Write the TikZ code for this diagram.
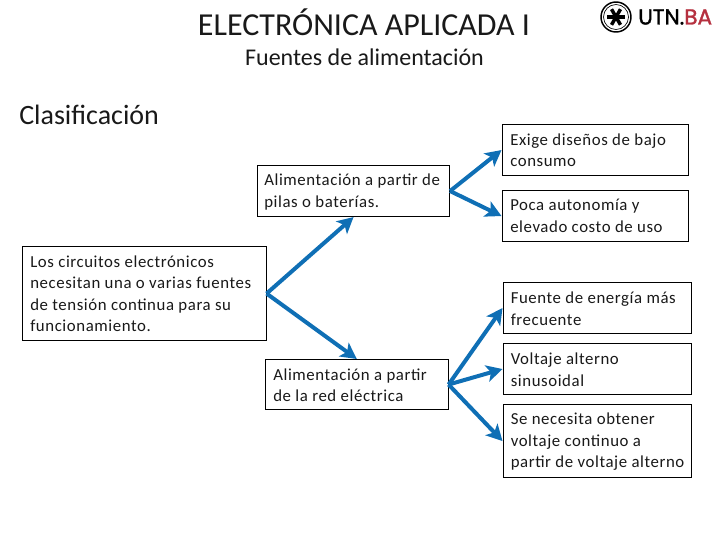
\documentclass[tikz,border=0pt]{standalone}
\usepackage{fontspec}
\setmainfont{Carlito}
\newfontfamily\logofont[FakeBold=1.5]{Poppins}
\newfontfamily\bodyfont[LetterSpace=3.5]{Carlito}
\usetikzlibrary{arrows.meta,calc}
\definecolor{arrowblue}{HTML}{0F6FB5}
\definecolor{logored}{HTML}{B5303F}
\tikzset{
  x=0.75pt,y=-0.75pt,
  box/.style={draw=black,line width=0.8pt,fill=white,anchor=north west,inner sep=0pt,minimum height=#1*0.75pt},
  txt/.style={anchor=west,inner sep=0pt,align=left,font=\bodyfont\fontsize{12.6pt}{16.1pt}\selectfont,text=black!90},
  conn/.style={draw=arrowblue,line width=3pt,-{Stealth[length=12pt,width=12.5pt,inset=3pt]}},
  title/.style={inner sep=0pt,text=black!90},
}
\begin{document}
\begin{tikzpicture}
\useasboundingbox (0,0) rectangle (720,540);
\node[title,font=\fontsize{24pt}{28pt}\selectfont] (t1) at (364,22) {ELECTRÓNICA APLICADA I};
\node[title,font=\fontsize{18pt}{22pt}\selectfont] (t2) at (364.5,57) {Fuentes de alimentación};
\node[title,font=\fontsize{21pt}{25pt}\selectfont,anchor=west] (t3) at (19,115) {Clasificación};
% boxes
\node[box=51,minimum width=192*0.75pt] (a) at (257,165) {};
\node[box=94,minimum width=244*0.75pt] (s) at (21.5,246) {};
\node[box=50,minimum width=182.5*0.75pt] (b) at (265,359) {};
\node[box=51,minimum width=186*0.75pt] (r1) at (501.5,124) {};
\node[box=51,minimum width=186*0.75pt] (r2) at (501.5,190) {};
\node[box=51,minimum width=188*0.75pt] (r3) at (502.5,282) {};
\node[box=51,minimum width=188*0.75pt] (r4) at (502.5,343) {};
\node[box=73,minimum width=188*0.75pt] (r5) at (502.5,404) {};
% text
\node[txt] (ta) at (264,192) {Alimentación a partir de\\pilas o baterías.};
\node[txt] (ts) at (30,293.5) {Los circuitos electrónicos\\necesitan una o varias fuentes\\de tensión continua para su\\funcionamiento.};
\node[txt] (tb) at (273,385) {Alimentación a partir\\de la red eléctrica};
\node[txt] (tr1) at (510,150) {Exige diseños de bajo\\consumo};
\node[txt] (tr2) at (510,216) {Poca autonomía y\\elevado costo de uso};
\node[txt] (tr3) at (510.5,308.5) {Fuente de energía más\\frecuente};
\node[txt] (tr4) at (510.5,369.5) {Voltaje alterno\\sinusoidal};
\node[txt] (tr5) at (510.5,442) {Se necesita obtener\\voltaje continuo a\\partir de voltaje alterno};
% connectors
\draw[conn] (s.east) -- (a.south);
\draw[conn] (s.east) -- (b.north);
\draw[conn] (a.east) -- (r1.west);
\draw[conn] (a.east) -- (r2.west);
\draw[conn] (b.east) -- (r3.west);
\draw[conn] (b.east) -- (r4.west);
\draw[conn] (b.east) -- (r5.west);
% logo
\coordinate (lc) at (616,17);
\draw[black,line width=1.1pt] (lc) circle (15);
\draw[black,line width=0.5pt] (lc) circle (12.5);
\foreach \ang in {0,60,120}{
  \draw[black,line width=2.6pt] ($(lc)+(\ang:9)$) -- ($(lc)+(\ang+180:9)$);
}
\node[inner sep=0pt,anchor=west,font=\logofont\fontsize{16.2pt}{18pt}\selectfont] (lg) at (638,17) {UTN.\textcolor{logored}{BA}};
\end{tikzpicture}
\end{document}
